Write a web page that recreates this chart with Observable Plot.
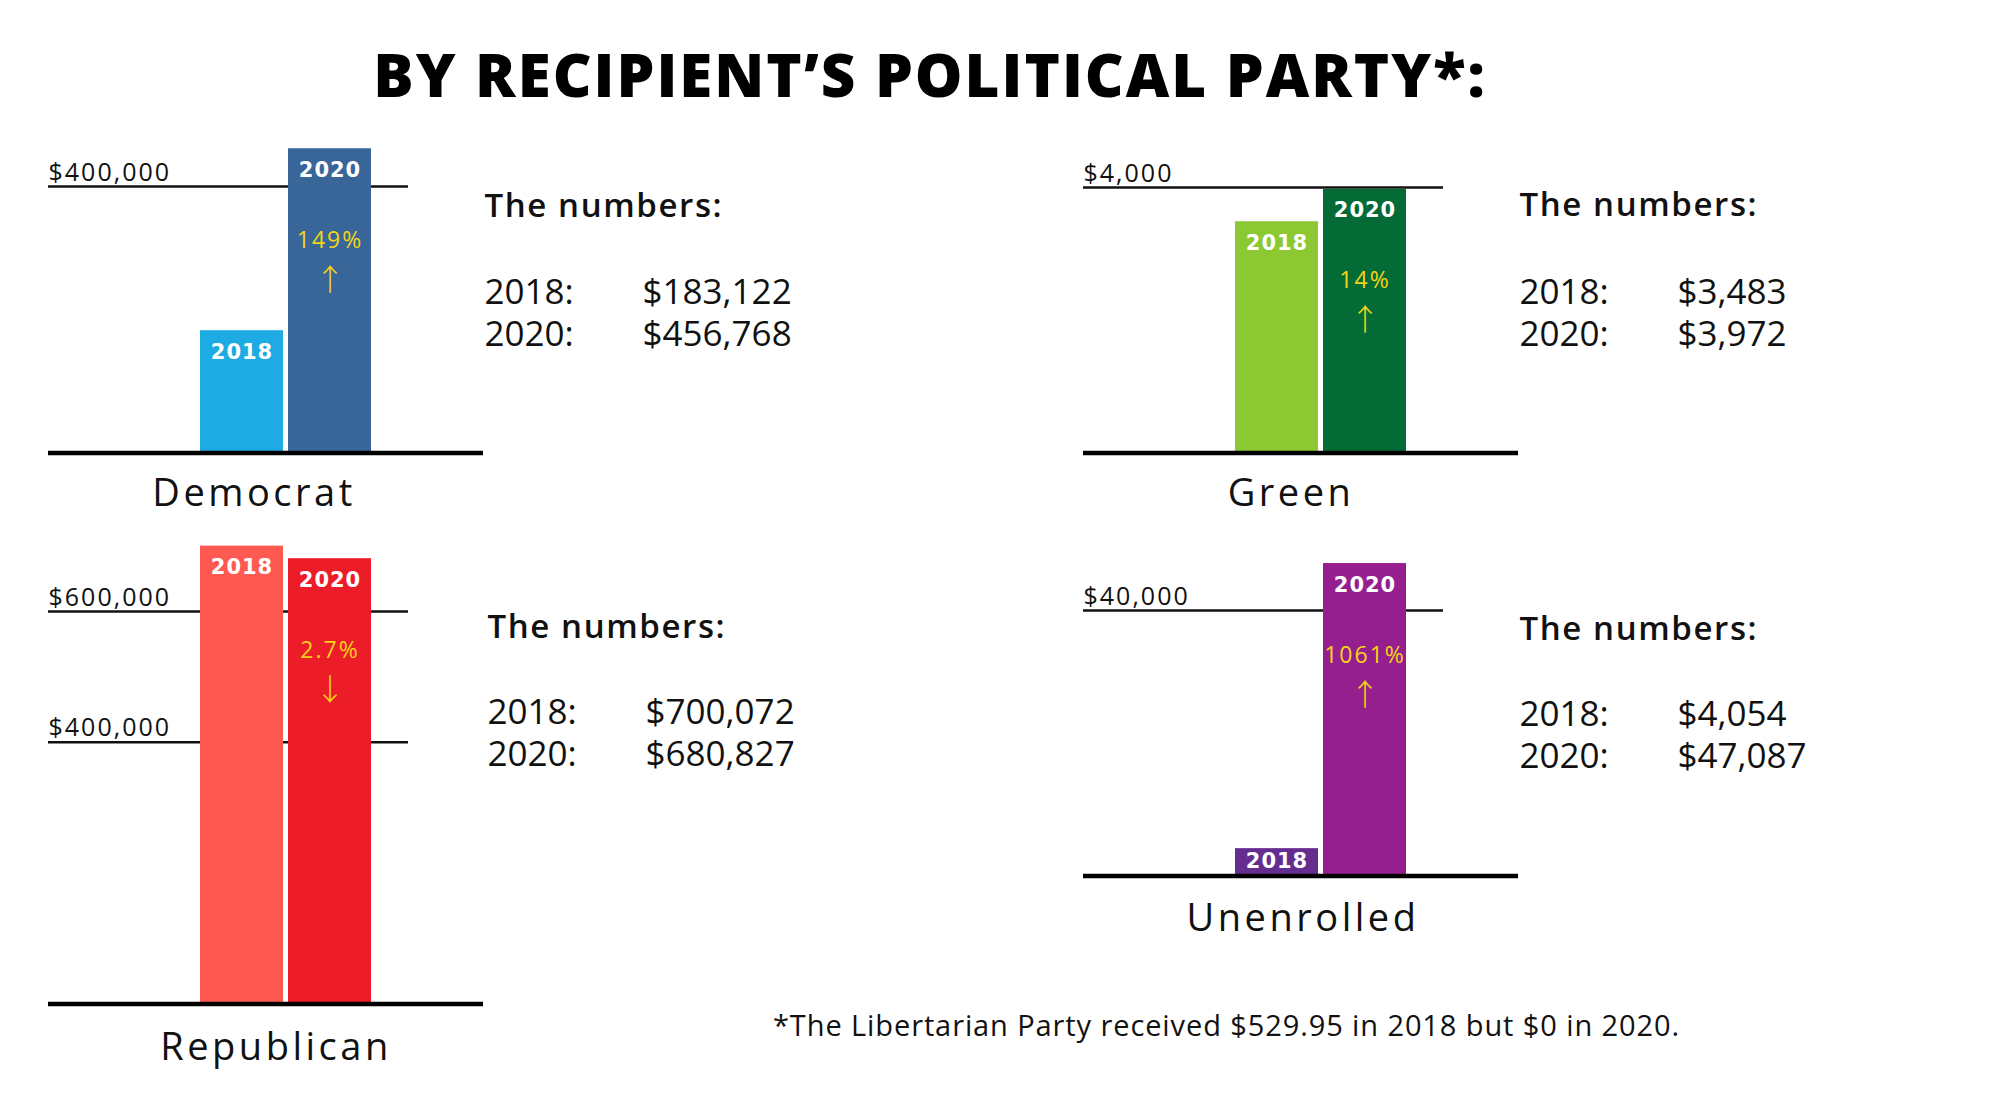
<!DOCTYPE html>
<html>
<head>
<meta charset="utf-8">
<script src="https://cdn.jsdelivr.net/npm/d3@7"></script>
<script src="https://cdn.jsdelivr.net/npm/@observablehq/plot@0.6"></script>
<style>
  html, body { margin: 0; padding: 0; background: #fff; }
  #page { position: relative; width: 2000px; height: 1094px; overflow: hidden; background: #fff; font-family: "Open Sans", sans-serif; color: #111; }
  .panel { position: absolute; }
  .panel svg { max-width: none !important; }
  #title { position: absolute; left: 0; width: 1860px; top: 44px; text-align: center; font-size: 60px; font-weight: 800; line-height: 1; color: #000; letter-spacing: 2px; }
  #footnote { position: absolute; left: 773px; top: 1010px; font-size: 29px; line-height: 1; color: #111; letter-spacing: 0.9px; white-space: nowrap; }
</style>
</head>
<body>
<div id="page">
  <div id="title"></div>
  <div id="footnote"></div>
</div>
<script>
// ---- data ----
const title = "BY RECIPIENT’S POLITICAL PARTY*:";
const footnote = "*The Libertarian Party received $529.95 in 2018 but $0 in 2020.";
const parties = ["Democrat", "Green", "Republican", "Unenrolled"];
const years = ["2018", "2020"];
const amounts2018 = [183122, 3483, 700072, 4054];
const amounts2020 = [456768, 3972, 680827, 47087];
const changeLabels = ["149%", "14%", "2.7%", "1061%"];
const changeArrows = ["↑", "↑", "↓", "↑"];
const gridTicks = [[400000], [4000], [400000, 600000], [40000]];
const numbersHeader = "The numbers:";

// ---- styles ----
const colors2018 = ["#1eaae2", "#8bc832", "#fe5a52", "#662d91"];
const colors2020 = ["#386699", "#046b37", "#ed1c29", "#951f8e"];
const yellow = "#f5d316";
const layout = [
  {left: 0,    top: 100, height: 440, zero: 352, tickPx: 86,  labelDx: -12, labelDy: 53, headDx: 1, headDy: 116, rowsDy: 245},
  {left: 1035, top: 100, height: 440, zero: 352, tickPx: 87,  labelDx: -10, labelDy: 53, headDx: 1, headDy: 115, rowsDy: 245},
  {left: 0,    top: 500, height: 580, zero: 503, tickPx: 111, labelDx: 10,  labelDy: 56, headDx: 4, headDy: 137, rowsDy: 265},
  {left: 1035, top: 500, height: 460, zero: 375, tickPx: 110, labelDx: 2,   labelDy: 55, headDx: 1, headDy: 139, rowsDy: 267}
];
const rowGap = 42;

document.getElementById("title").textContent = title;
document.getElementById("footnote").textContent = footnote;

const page = document.getElementById("page");
const fmt = d3.format("$,");

parties.forEach((party, i) => {
  const L = layout[i];
  const rows = years.map((year, j) => ({
    year,
    value: j === 0 ? amounts2018[i] : amounts2020[i],
    color: j === 0 ? colors2018[i] : colors2020[i]
  }));
  const ticks = gridTicks[i];
  const ref = d3.max(ticks);
  const pxPerUnit = (L.zero - L.tickPx) / ref;
  const tall = rows.filter(d => d.value * pxPerUnit > 45);
  const short = rows.filter(d => d.value * pxPerUnit <= 45);
  const latest = rows.filter(d => d.year === "2020");
  const W = 900;

  // "The numbers:" rows, one text mark per row
  const rowMarks = rows.flatMap((r, j) => {
    const dy = L.rowsDy - (rows.length - 1 - j) * rowGap;
    return [
      Plot.text([r], {frameAnchor: "top-right", text: d => d.year + ":", textAnchor: "start", lineAnchor: "bottom", dx: L.headDx, dy, fontSize: 35, fill: "#111"}),
      Plot.text([r], {frameAnchor: "top-right", text: d => fmt(d.value), textAnchor: "start", lineAnchor: "bottom", dx: L.headDx + 158, dy, fontSize: 35, fill: "#111"})
    ];
  });

  const plot = Plot.plot({
    width: W,
    height: L.height,
    marginLeft: 48,
    marginRight: W - 483,
    marginTop: 0,
    marginBottom: 0,
    x: {type: "band", domain: years, range: [200, 371], paddingInner: 5 / 88, paddingOuter: 0, axis: null},
    y: {domain: [0, ref], range: [L.zero, L.tickPx], axis: null},
    color: {type: "identity"},
    style: {background: "transparent", overflow: "visible", fontFamily: "Open Sans", color: "#111"},
    marks: [
      Plot.ruleY(ticks, {stroke: "#111", strokeWidth: 2.5, insetRight: 75}),
      Plot.text(ticks, {y: d => d, text: d => fmt(d), frameAnchor: "left", textAnchor: "start", lineAnchor: "bottom", dy: -6, fontSize: 25, fill: "#111"}),
      Plot.barY(rows, {x: "year", y1: 0, y2: "value", fill: "color"}),
      Plot.ruleY([0], {stroke: "#000", strokeWidth: 4.5, dy: 0.5}),
      Plot.text(tall, {x: "year", y: "value", text: "year", fill: "white", fontFamily: "DejaVu Sans", fontWeight: 700, fontSize: 21, lineAnchor: "bottom", dy: 28}),
      Plot.text(short, {x: "year", y: 0, text: "year", fill: "white", fontFamily: "DejaVu Sans", fontWeight: 700, fontSize: 21, lineAnchor: "bottom", dy: -8}),
      Plot.text(latest, {x: "year", y: "value", text: () => changeLabels[i], fill: yellow, fontWeight: 400, fontSize: 23, lineAnchor: "bottom", dy: 99}),
      Plot.text(latest, {x: "year", y: "value", text: () => changeArrows[i], fill: yellow, fontWeight: 300, fontSize: 30, fontFamily: "Noto Sans CJK SC", lineAnchor: "bottom", dy: 141}),
      Plot.text([party], {y: 0, text: d => d, frameAnchor: "middle", lineAnchor: "bottom", dx: L.labelDx, dy: L.labelDy, fontSize: 38, fill: "#111"}),
      Plot.text([numbersHeader], {frameAnchor: "top-right", textAnchor: "start", lineAnchor: "bottom", dx: L.headDx, dy: L.headDy, fontSize: 33, fontWeight: 600, fill: "#111"}),
      ...rowMarks
    ]
  });

  // letter spacing per text role (matched by content)
  const tickStrings = new Set(ticks.map(fmt));
  d3.select(plot).selectAll("text").each(function() {
    const t = this.textContent;
    let ls = null;
    if (t === party) ls = "3.5px";
    else if (years.includes(t)) ls = "1px";
    else if (tickStrings.has(t)) ls = "2px";
    else if (t === numbersHeader) ls = "1.6px";
    else if (changeLabels.includes(t)) ls = "2px";
    if (ls) this.style.letterSpacing = ls;
  });

  const wrap = document.createElement("div");
  wrap.className = "panel";
  wrap.style.left = L.left + "px";
  wrap.style.top = L.top + "px";
  wrap.appendChild(plot);
  page.appendChild(wrap);
});
</script>
</body>
</html>
